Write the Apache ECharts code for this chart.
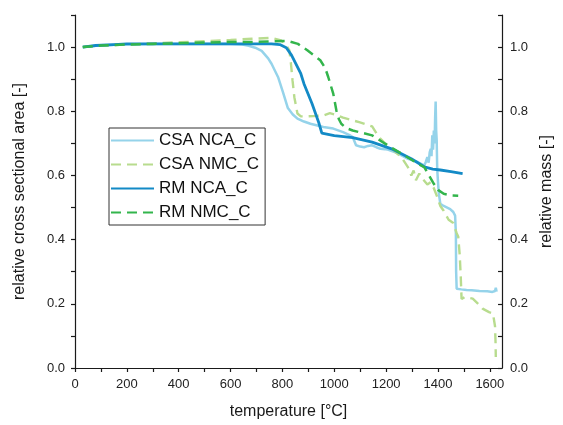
<!DOCTYPE html>
<html>
<head>
<meta charset="utf-8">
<script src="https://cdn.jsdelivr.net/npm/echarts@6/dist/echarts.min.js"></script>
<style>html,body{margin:0;padding:0;background:#fff}#c{width:563px;height:425px}</style>
</head>
<body>
<div id="c"></div>
<script>
// ---- data (temperature in °C, relative values) ----
var seriesNames = ['CSA NCA_C', 'CSA NMC_C', 'RM NCA_C', 'RM NMC_C'];

var csaNcaT = [30, 100, 200, 300, 400, 500, 600,
  645, 670, 695, 720, 745, 758, 783, 802, 821, 840, 858, 883, 908, 958, 996,
  1034, 1059, 1071, 1084, 1100, 1115, 1130, 1146, 1162, 1178, 1195, 1209, 1228, 1247, 1265, 1284, 1303, 1322, 1335, 1347,
  1353, 1359, 1364, 1368, 1372, 1375, 1378, 1381, 1384, 1387, 1389, 1391, 1393, 1395, 1397, 1400, 1403, 1409,
  1422, 1447, 1459, 1466, 1469, 1470, 1472,
  1490, 1510, 1530, 1560, 1590, 1610, 1620, 1623, 1626];
var csaNcaV = [1.0, 1.006, 1.008, 1.01, 1.01, 1.01, 1.01,
  1.008, 1.004, 0.998, 0.988, 0.965, 0.948, 0.907, 0.86, 0.81, 0.79, 0.777, 0.768, 0.761, 0.751, 0.746,
  0.735, 0.726, 0.72, 0.694, 0.69, 0.688, 0.692, 0.694, 0.688, 0.683, 0.682, 0.68, 0.674, 0.668, 0.66, 0.652, 0.647, 0.642, 0.636, 0.631,
  0.642, 0.657, 0.64, 0.672, 0.683, 0.66, 0.725, 0.68, 0.74, 0.70, 0.78, 0.83, 0.74, 0.71, 0.62, 0.58, 0.545, 0.512,
  0.505, 0.495, 0.486, 0.475, 0.42, 0.30, 0.247,
  0.245, 0.243, 0.242, 0.24, 0.239, 0.237, 0.24, 0.25, 0.238];

var csaNmcT = [30, 100, 200, 300, 400, 500, 600, 683, 758,
  795, 815, 827, 833, 839, 846, 858, 871, 883, 920, 958, 983, 1010, 1034, 1065, 1096, 1146,
  1171, 1196, 1221, 1259, 1284, 1297, 1306, 1315, 1328, 1340, 1347, 1359, 1372, 1384, 1391, 1397,
  1409, 1422, 1441, 1459, 1472, 1478, 1484, 1488, 1491, 1503, 1534, 1555, 1572, 1597, 1612, 1620, 1622, 1623];
var csaNmcV = [1.0, 1.005, 1.008, 1.012, 1.015, 1.018, 1.022, 1.026, 1.029,
  1.021, 1.005, 0.99, 0.948, 0.896, 0.844, 0.793, 0.784, 0.784, 0.785, 0.787, 0.794, 0.788, 0.78, 0.773, 0.766, 0.753,
  0.72, 0.70, 0.683, 0.657, 0.626, 0.60, 0.615, 0.585, 0.606, 0.59, 0.595, 0.572, 0.579, 0.56, 0.564, 0.533,
  0.505, 0.49, 0.462, 0.452, 0.42, 0.41, 0.35, 0.28, 0.215, 0.221, 0.216, 0.2, 0.185, 0.174, 0.17, 0.13, 0.08, 0.034];

var rmNcaT = [30, 80, 150, 200, 300, 400, 500, 600, 700, 758,
  790, 815, 835, 852, 871, 883, 914, 940, 952, 958,
  1000, 1071, 1146, 1221, 1297, 1347, 1380, 1409, 1450, 1495];
var rmNcaV = [1.0, 1.005, 1.008, 1.01, 1.01, 1.01, 1.01, 1.01, 1.01, 1.01,
  1.008, 0.998, 0.975, 0.948, 0.917, 0.886, 0.824, 0.765, 0.732, 0.727,
  0.724, 0.718, 0.704, 0.683, 0.652, 0.627, 0.62, 0.617, 0.612, 0.606];

var rmNmcT = [30, 100, 200, 300, 400, 500, 600, 695, 760, 820,
  860, 896, 920, 946, 965, 977, 996, 1008, 1018, 1027, 1045, 1071,
  1146, 1196, 1259, 1322, 1347, 1384, 1400, 1422, 1450, 1478];
var rmNmcV = [1.0, 1.005, 1.008, 1.01, 1.012, 1.014, 1.016, 1.016, 1.018, 1.019,
  1.01, 0.99, 0.975, 0.959, 0.935, 0.906, 0.855, 0.803, 0.775, 0.761, 0.748, 0.74,
  0.725, 0.699, 0.668, 0.637, 0.626, 0.574, 0.555, 0.543, 0.538, 0.537];

var xTickValues = [0, 100, 200, 300, 400, 500, 600, 700, 800, 900, 1000, 1100, 1200, 1300, 1400, 1500, 1600];
var xLabelValues = [0, 200, 400, 600, 800, 1000, 1200, 1400, 1600];
var yTickValues = [0, 0.1, 0.2, 0.3, 0.4, 0.5, 0.6, 0.7, 0.8, 0.9, 1.0, 1.1];
var yLabelValues = [0, 0.2, 0.4, 0.6, 0.8, 1.0];

function zip(t, v) { return t.map(function (x, i) { return [x, v[i]]; }); }

var chart = echarts.init(document.getElementById('c'), null, {renderer: 'canvas'});
var font = 'Liberation Sans, Arial, sans-serif';
var axisLineStyle = {color: '#1a1a1a', width: 1.2};

function yAx(pos, name, gap) {
  return {
    type: 'value', position: pos, min: 0, max: 1.1,
    name: name, nameLocation: 'middle', nameGap: gap,
    nameTextStyle: {fontFamily: font, fontSize: 16, color: '#1a1a1a'},
    axisLine: {show: true, onZero: false, lineStyle: axisLineStyle},
    axisTick: {show: true, inside: pos === 'right', length: 4, customValues: yTickValues, lineStyle: axisLineStyle},
    axisLabel: {show: true, fontFamily: font, fontSize: 13, color: '#222', margin: pos === 'right' ? 8 : 10,
      customValues: yLabelValues, formatter: function (v) { return Number(v).toFixed(1); }},
    splitLine: {show: false}
  };
}

var option = {
  backgroundColor: '#ffffff',
  animation: false,
  grid: {left: 75, right: 50, top: 15, bottom: 57, containLabel: false},
  legend: {
    show: true, orient: 'vertical', left: 109, top: 128,
    data: seriesNames,
    itemWidth: 43, itemHeight: 16, itemGap: 7,
    padding: [4, 6, 4, 1],
    borderColor: '#333', borderWidth: 1, backgroundColor: '#fff',
    itemStyle: {opacity: 0},
    textStyle: {fontFamily: font, fontSize: 17, color: '#111'}
  },
  xAxis: {
    type: 'value', min: 0, max: 1647,
    name: 'temperature [°C]', nameLocation: 'middle', nameGap: 36,
    nameTextStyle: {fontFamily: font, fontSize: 16, color: '#1a1a1a'},
    axisLine: {show: true, onZero: false, lineStyle: axisLineStyle},
    axisTick: {show: true, length: 4, customValues: xTickValues, lineStyle: axisLineStyle},
    axisLabel: {fontFamily: font, fontSize: 13, color: '#222', margin: 10, customValues: xLabelValues,
      formatter: function (v) { return String(Math.round(v)); }},
    splitLine: {show: false}
  },
  yAxis: [yAx('left', 'relative cross sectional area [-]', 47), yAx('right', 'relative mass [-]', 27)],
  series: [
    {name: seriesNames[0], type: 'line', yAxisIndex: 0, showSymbol: false, symbol: 'none', z: 2,
      data: zip(csaNcaT, csaNcaV), lineStyle: {color: '#95d3ea', width: 2.5}, itemStyle: {color: '#95d3ea'}},
    {name: seriesNames[1], type: 'line', yAxisIndex: 0, showSymbol: false, symbol: 'none', z: 2,
      data: zip(csaNmcT, csaNmcV), lineStyle: {color: '#b8dc8e', width: 2.4, type: [10, 6]}, itemStyle: {color: '#b8dc8e'}},
    {name: seriesNames[2], type: 'line', yAxisIndex: 1, showSymbol: false, symbol: 'none', z: 3,
      data: zip(rmNcaT, rmNcaV), lineStyle: {color: '#138ac6', width: 2.8}, itemStyle: {color: '#138ac6'}},
    {name: seriesNames[3], type: 'line', yAxisIndex: 1, showSymbol: false, symbol: 'none', z: 3,
      data: zip(rmNmcT, rmNmcV), lineStyle: {color: '#33b54c', width: 2.5, type: [10, 6]}, itemStyle: {color: '#33b54c'}}
  ]
};
chart.setOption(option);
</script>
</body>
</html>
